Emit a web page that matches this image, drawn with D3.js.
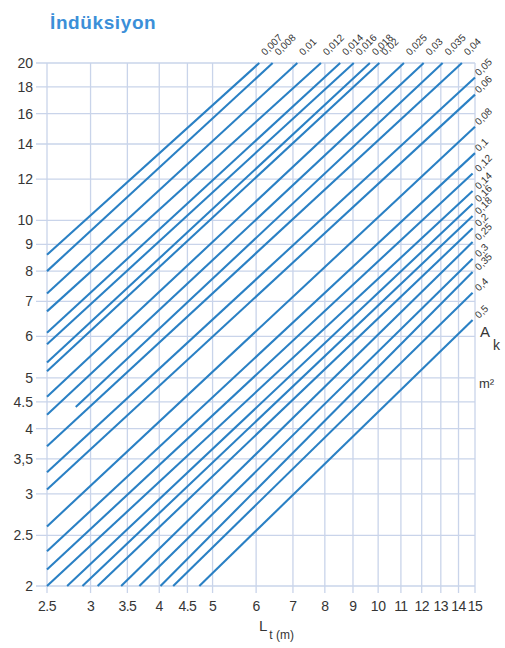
<!DOCTYPE html>
<html>
<head>
<meta charset="utf-8">
<script src="https://cdn.jsdelivr.net/npm/d3@7"></script>
<style>
  body { margin: 0; background: #fff; }
  text { font-family: "Liberation Sans", Arial, sans-serif; }
</style>
</head>
<body>
<script>
// tick values and labels
var xTicks = [2.5, 3, 3.5, 4, 4.5, 5, 6, 7, 8, 9, 10, 11, 12, 13, 14, 15];
var xTickLabels = ["2.5", "3", "3.5", "4", "4.5", "5", "6", "7", "8", "9", "10", "11", "12", "13", "14", "15"];
var yTicks = [2, 2.5, 3, 3.5, 4, 4.5, 5, 6, 7, 8, 9, 10, 12, 14, 16, 18, 20];
var yTickLabels = ["2", "2.5", "3", "3,5", "4", "4.5", "5", "6", "7", "8", "9", "10", "12", "14", "16", "18", "20"];

// one line per cross-section A_k (m²)
var areas = ["0,007", "0,008", "0,01", "0,012", "0,014", "0,016", "0,018", "0,02", "0,025", "0,03", "0,035", "0,04",
             "0,05", "0,06", "0,08", "0,1", "0,12", "0,14", "0,16", "0,18", "0,2", "0,25", "0,3", "0,35", "0,4", "0,5"];
var startX = [2.5, 2.5, 2.5, 2.5, 2.5, 2.5, 2.5, 2.5, 2.5, 2.5, 2.82, 2.5,
              2.5, 2.5, 2.5, 2.5, 2.5, 2.5, 2.72, 2.9, 3.09, 3.41, 3.68, 4.02, 4.24, 4.73];
var startY = [8.6, 8.0, 7.25, 6.7, 6.1, 5.8, 5.35, 5.15, 4.6, 4.25, 4.4, 3.7,
              3.3, 3.06, 2.6, 2.33, 2.15, 2.0, 2, 2, 2, 2, 2, 2, 2, 2];
var endX = [6.08, 6.43, 7.13, 7.87, 8.53, 9.03, 9.66, 10.05, 11.14, 12.1, 13.1, 14.2,
            15, 15, 15, 15, 14.85, 14.85, 14.85, 14.85, 14.85, 14.85, 14.85, 14.85, 14.85, 14.85];
var endY = [20, 20, 20, 20, 20, 20, 20, 20, 20, 20, 20, 20,
            18.77, 17.4, 15.1, 13.45, 12.3, 11.38, 10.76, 10.2, 9.66, 9.09, 8.45, 7.97, 7.27, 6.45];

var W = 505, H = 648;
var gridColor = "#c9d4ea";
var lineColor = "#2a80c4";
var textColor = "#353535";

var x = d3.scaleLog().domain([2.5, 15]).range([47, 475]);
var y = d3.scaleLog().domain([2, 20]).range([586, 63]);

var svg = d3.select("body").append("svg")
    .attr("width", W)
    .attr("height", H);

// title
svg.append("text")
    .attr("x", 50)
    .attr("y", 29)
    .attr("fill", "#3b8fd8")
    .style("font-size", "19px")
    .style("font-weight", "bold")
    .style("letter-spacing", "0.6px")
    .text("İndüksiyon");

// grid
var grid = svg.append("g");
grid.selectAll(".vg").data(xTicks).enter().append("line")
    .attr("x1", function(d) { return x(d); })
    .attr("x2", function(d) { return x(d); })
    .attr("y1", y(20))
    .attr("y2", y(2) + 7)
    .attr("stroke", gridColor)
    .attr("stroke-width", 1.3);
grid.selectAll(".hg").data(yTicks).enter().append("line")
    .attr("x1", x(2.5) - 11)
    .attr("x2", x(15))
    .attr("y1", function(d) { return y(d); })
    .attr("y2", function(d) { return y(d); })
    .attr("stroke", gridColor)
    .attr("stroke-width", 1.3);

// tick labels
svg.append("g").selectAll("text").data(yTicks).enter().append("text")
    .attr("x", 33)
    .attr("y", function(d) { return y(d) + 5; })
    .attr("text-anchor", "end")
    .attr("fill", textColor)
    .style("font-size", "14px")
    .text(function(d, i) { return yTickLabels[i]; });

svg.append("g").selectAll("text").data(xTicks).enter().append("text")
    .attr("x", function(d) { return x(d); })
    .attr("y", 611)
    .attr("text-anchor", "middle")
    .attr("fill", textColor)
    .style("font-size", "14px")
    .style("letter-spacing", "-0.5px")
    .text(function(d, i) { return xTickLabels[i]; });

// lines
var rows = areas.map(function(a, i) {
    return {a: a, p: [[startX[i], startY[i]], [endX[i], endY[i]]]};
});
var line = d3.line()
    .x(function(d) { return x(d[0]); })
    .y(function(d) { return y(d[1]); });

svg.append("g").selectAll("path").data(rows).enter().append("path")
    .attr("d", function(d) { return line(d.p); })
    .attr("stroke", lineColor)
    .attr("stroke-width", 2.1)
    .attr("fill", "none");

// line labels, rotated
svg.append("g").selectAll("text").data(rows).enter().append("text")
    .attr("transform", function(d) {
        var ex = x(d.p[1][0]), ey = y(d.p[1][1]);
        if (d.p[1][1] >= 20) return "translate(" + (ex + 6) + "," + (ey - 7) + ") rotate(-45)";
        return "translate(" + (x(15) + 4) + "," + (ey - 1) + ") rotate(-45)";
    })
    .attr("fill", textColor)
    .style("font-size", "10px")
    .text(function(d) { return d.a; });

// axis titles
var lt = svg.append("text").attr("x", 259).attr("y", 631).attr("fill", textColor);
lt.append("tspan").style("font-size", "15px").text("L");
lt.append("tspan").attr("dx", 2).attr("dy", 8).style("font-size", "12px").text("t (m)");

svg.append("text").attr("x", 480).attr("y", 337).attr("fill", textColor)
    .style("font-size", "15px").text("A");
svg.append("text").attr("x", 493).attr("y", 350).attr("fill", textColor)
    .style("font-size", "14px").text("k");
svg.append("text").attr("x", 479).attr("y", 388).attr("fill", textColor)
    .style("font-size", "13px").text("m²");
</script>
</body>
</html>
